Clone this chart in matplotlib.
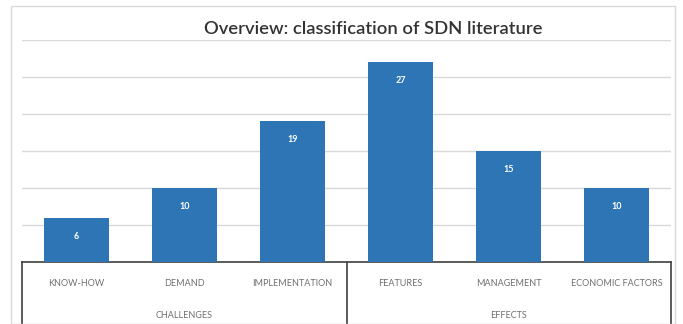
import matplotlib.pyplot as plt
from matplotlib.patches import Rectangle
from matplotlib.lines import Line2D

# data
categories = ['KNOW-HOW', 'DEMAND', 'IMPLEMENTATION', 'FEATURES', 'MANAGEMENT', 'ECONOMIC FACTORS']
counts = [6, 10, 19, 27, 15, 10]
groups = ['CHALLENGES', 'EFFECTS']
group_sizes = [3, 3]

plt.rcParams['font.family'] = ['Lato', 'DejaVu Sans']

W, H = 683, 324
fig = plt.figure(figsize=(W / 100, H / 100), dpi=100)

# outer chart frame
fig.patches.append(Rectangle((11 / W, 0), (675 - 11) / W, (H - 6) / H,
                             transform=fig.transFigure, fill=False,
                             edgecolor='#d9d9d9', linewidth=1.0))

ax = fig.add_axes([22 / W, (H - 262) / H, (671 - 22) / W, (262 - 40) / H])
x = range(len(categories))
bars = ax.bar(x, counts, width=0.6, color='#2e75b6', zorder=3)

ax.set_xlim(-0.5, len(categories) - 0.5)
ax.set_ylim(0, 30)
ax.set_yticks(range(0, 31, 5))
ax.yaxis.grid(True, color='#d9d9d9', linewidth=1.0, zorder=0)
ax.set_xticks([])
ax.tick_params(left=False, labelleft=False)
for s in ['top', 'right', 'left']:
    ax.spines[s].set_visible(False)
ax.spines['bottom'].set_color('#404040')
ax.spines['bottom'].set_linewidth(1.2)

# value labels inside the bar tops
for b, v in zip(bars, counts):
    ax.text(b.get_x() + b.get_width() / 2, v - 2.5, str(v), ha='center', va='center',
            color='white', fontsize=6.5, fontweight='bold', zorder=4)

# two-level category axis
trans = ax.get_xaxis_transform()
for i, c in enumerate(categories):
    ax.text(i, -0.095, c, transform=trans, ha='center', va='center',
            fontsize=6.5, color='#6f6f6f')

# vertical separators at group boundaries
bottom = -62 / (262 - 40)
start = 0
bounds = [-0.5]
for n in group_sizes:
    start += n
    bounds.append(start - 0.5)
for bx in bounds:
    ax.add_line(Line2D([bx, bx], [0, bottom], transform=trans, color='#404040',
                       linewidth=1.2, clip_on=False))

start = 0
for g, n in zip(groups, group_sizes):
    mid = start + (n - 1) / 2
    ax.text(mid, -0.24, g, transform=trans, ha='center', va='center',
            fontsize=6.5, color='#6f6f6f')
    start += n

fig.text(373 / W, (H - 29) / H, 'Overview: classification of SDN literature',
         ha='center', va='center', fontsize=13.2, color='#333333', fontweight='semibold')

fig.savefig('out.png', dpi=100)
